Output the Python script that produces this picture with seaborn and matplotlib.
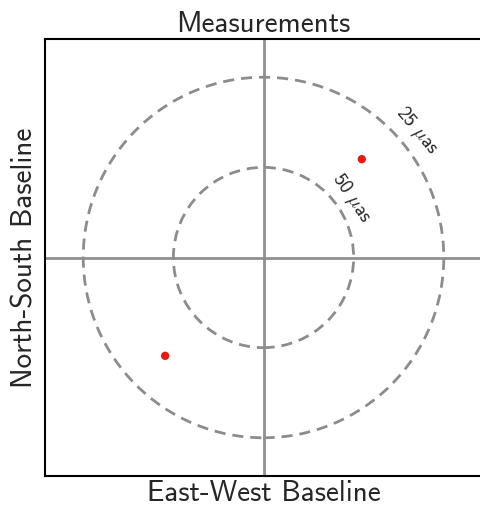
import numpy as np
import pandas as pd
import matplotlib
matplotlib.use("Agg")
import matplotlib.pyplot as plt
import seaborn as sns
from matplotlib.patches import Circle

# Baseline coordinates (Gλ) of the measured visibility and its conjugate
u_gl = [4.5, -4.5]
v_gl = [4.5, -4.5]

# Fringe-spacing rings (μas) and their labels
ring_uas = [25, 50]
ring_labels = [r"25 $\mu$as", r"50 $\mu$as"]
ring_label_angle_deg = [39.5, 34.0]
ring_label_offset = [0.9, 0.75]

UAS_TO_RAD = np.pi / 180 / 3600 / 1e6
ring_radius = [1.0 / (r * UAS_TO_RAD) / 1e9 for r in ring_uas]

sns.set_style("white")
plt.rcParams["font.family"] = ["cmss10", "DejaVu Sans"]
plt.rcParams["mathtext.fontset"] = "cm"
plt.rcParams["axes.unicode_minus"] = False
plt.rcParams["axes.formatter.use_mathtext"] = True

fig = plt.figure(figsize=(4.81, 5.08), dpi=100)
ax = fig.add_axes([45 / 481, 1 - 476 / 508, 437 / 481, 437 / 508])

df = pd.DataFrame({"u": u_gl, "v": v_gl})

ax.axhline(0, color="#909090", lw=2, zorder=1)
ax.axvline(0, color="#909090", lw=2, zorder=1)

for r in ring_radius:
    ax.add_patch(Circle((0, 0), r, fill=False, ls=(0, (4, 2.5)), lw=2,
                        color="#8c8c8c", zorder=2))

for r, lab, ang, off in zip(ring_radius, ring_labels, ring_label_angle_deg, ring_label_offset):
    rr = r + off
    a = np.deg2rad(ang)
    ax.text(rr * np.cos(a), rr * np.sin(a), lab, rotation=ang - 90,
            ha="center", va="center", fontsize=14, rotation_mode="anchor")

sns.scatterplot(data=df, x="u", y="v", color="#e8190f", s=36,
                edgecolor="none", ax=ax, zorder=3)

ax.set_xlim(-10, 10)
ax.set_ylim(-10, 10)
ax.set_xticks([])
ax.set_yticks([])
ax.set_xlabel("East-West Baseline", fontsize=21, labelpad=3)
ax.set_ylabel("North-South Baseline", fontsize=21, labelpad=5)
ax.set_title("Measurements", fontsize=21, pad=5)
for s in ax.spines.values():
    s.set_color("black")
    s.set_linewidth(1.5)

fig.savefig("out.png", dpi=100)
